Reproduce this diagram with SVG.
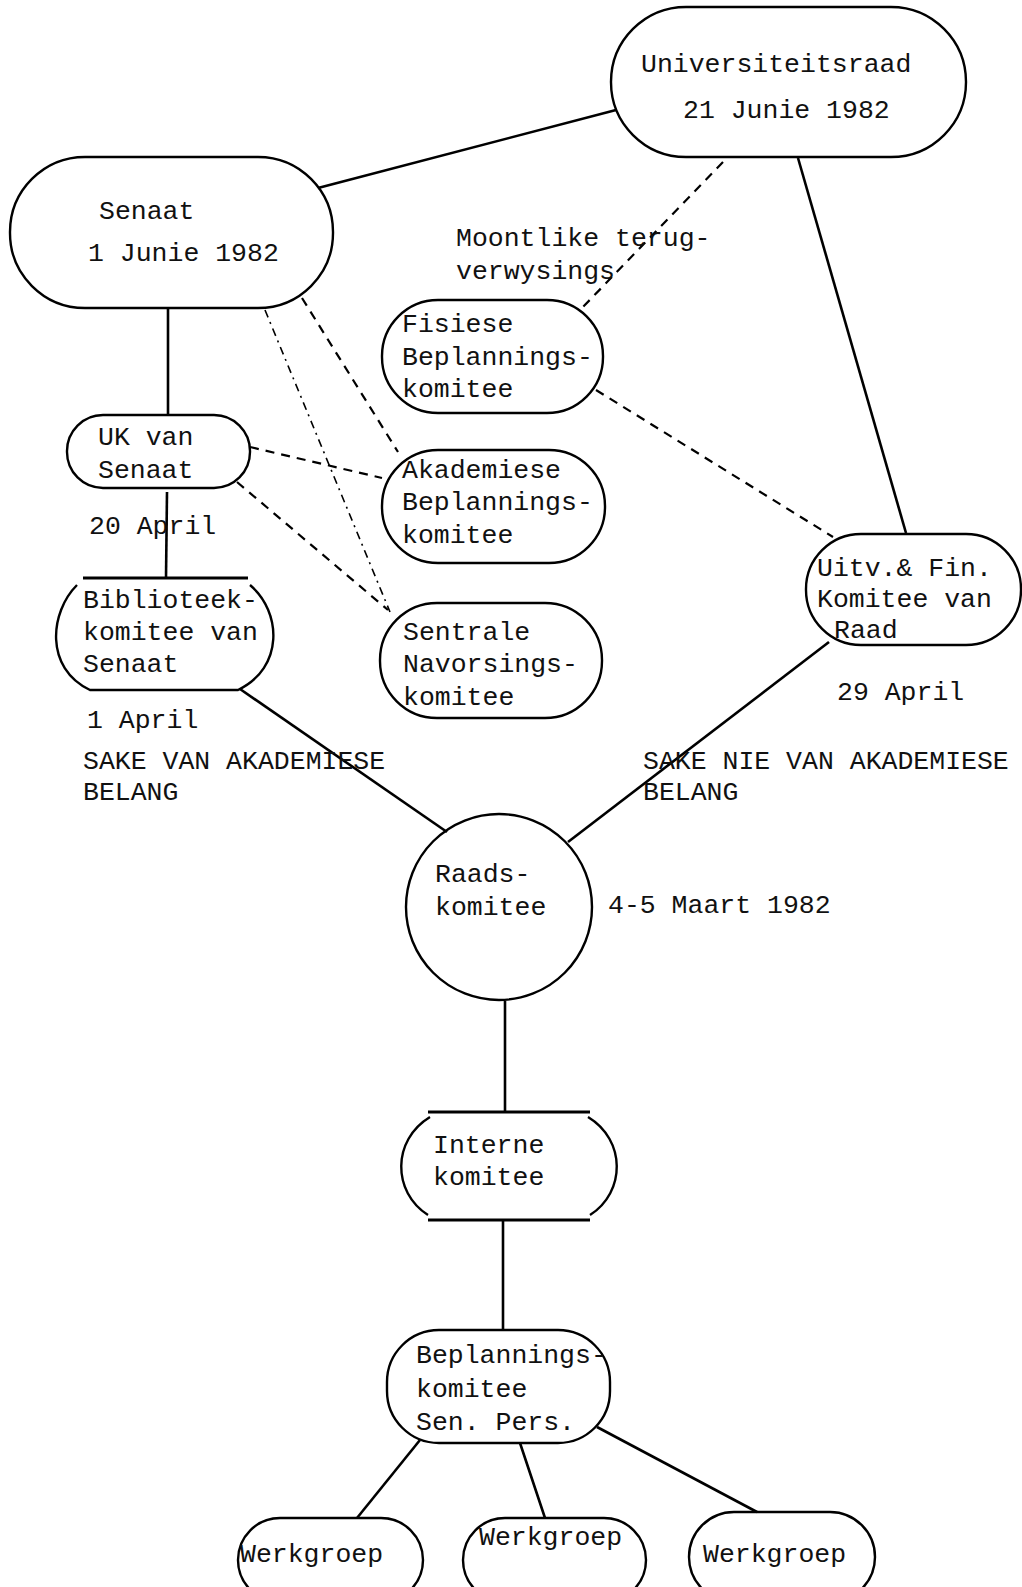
<svg xmlns="http://www.w3.org/2000/svg" width="1022" height="1587" viewBox="0 0 1022 1587">
  <style>
    .box { fill: none; stroke: #000; stroke-width: 2.4; }
    .bar { stroke: #000; stroke-width: 3; fill: none; }
    .link { stroke: #000; stroke-width: 2.6; fill: none; }
    .dash { stroke: #000; stroke-width: 2.2; fill: none; stroke-dasharray: 9 7; }
    .dashdot { stroke: #000; stroke-width: 1.6; fill: none; stroke-dasharray: 8 5 2 5; }
    text { font-family: "Liberation Mono", "Courier New", monospace; font-size: 26.5px; fill: #111; }
  </style>
  <rect width="1022" height="1587" fill="#fff"/>

  <!-- connectors -->
  <g id="connectors">
    <line class="link" x1="318" y1="188" x2="616" y2="110"/>
    <line class="link" x1="798" y1="158" x2="906" y2="533"/>
    <line class="link" x1="168" y1="308" x2="168" y2="415"/>
    <line class="link" x1="167" y1="492" x2="166" y2="578"/>
    <line class="link" x1="240" y1="689" x2="447" y2="832"/>
    <line class="link" x1="829" y1="642" x2="568" y2="842"/>
    <line class="link" x1="505" y1="1001" x2="505" y2="1112"/>
    <line class="link" x1="503" y1="1220" x2="503" y2="1330"/>
    <line class="link" x1="420" y1="1440" x2="357" y2="1518"/>
    <line class="link" x1="520" y1="1443" x2="545" y2="1518"/>
    <line class="link" x1="597" y1="1427" x2="757" y2="1512"/>
    <line class="dash" x1="723" y1="162" x2="583" y2="307"/>
    <line class="dash" x1="596" y1="390" x2="833" y2="537"/>
    <line class="dash" x1="302" y1="298" x2="398" y2="452"/>
    <line class="dashdot" x1="265" y1="310" x2="390" y2="612"/>
    <line class="dash" x1="250" y1="447" x2="382" y2="478"/>
    <line class="dash" x1="237" y1="482" x2="388" y2="610"/>
  </g>

  <!-- top level -->
  <g id="universiteitsraad">
    <rect class="box" x="611" y="7" width="355" height="150" rx="75"/>
    <text x="641" y="72">Universiteitsraad</text>
    <text x="683" y="118">21 Junie 1982</text>
  </g>
  <g id="senaat">
    <rect class="box" x="10" y="157" width="323" height="151" rx="75"/>
    <text x="99" y="219">Senaat</text>
    <text x="88" y="261">1 Junie 1982</text>
  </g>

  <g id="note-terugverwysings">
    <text x="456" y="246">Moontlike terug-</text>
    <text x="456" y="279">verwysings</text>
  </g>

  <!-- planning committees -->
  <g id="fisiese">
    <rect class="box" x="382" y="300" width="221" height="113" rx="56"/>
    <text x="402" y="332">Fisiese</text>
    <text x="402" y="365">Beplannings-</text>
    <text x="402" y="397">komitee</text>
  </g>
  <g id="akademiese">
    <rect class="box" x="382" y="450" width="223" height="113" rx="56"/>
    <text x="402" y="478">Akademiese</text>
    <text x="402" y="510">Beplannings-</text>
    <text x="402" y="543">komitee</text>
  </g>
  <g id="sentrale">
    <rect class="box" x="380" y="603" width="222" height="115" rx="57"/>
    <text x="403" y="640">Sentrale</text>
    <text x="403" y="672">Navorsings-</text>
    <text x="403" y="705">komitee</text>
  </g>

  <!-- senate side -->
  <g id="uk-senaat">
    <rect class="box" x="67" y="415" width="183" height="73" rx="36"/>
    <text x="98" y="445">UK van</text>
    <text x="98" y="478">Senaat</text>
  </g>
  <text x="89" y="534">20 April</text>

  <g id="biblioteek">
    <line class="bar" x1="83" y1="578" x2="248" y2="578"/>
    <path class="box" d="M77 585 C50 612 44 668 90 690 L238 690 C284 668 282 612 250 585"/>
    <text x="83" y="608">Biblioteek-</text>
    <text x="83" y="640">komitee van</text>
    <text x="83" y="672">Senaat</text>
  </g>
  <text x="87" y="728">1 April</text>
  <text x="83" y="769">SAKE VAN AKADEMIESE</text>
  <text x="83" y="800">BELANG</text>

  <!-- council side -->
  <g id="uitv-fin">
    <rect class="box" x="806" y="534" width="215" height="111" rx="55"/>
    <text x="817" y="576">Uitv.&amp; Fin.</text>
    <text x="817" y="607">Komitee van</text>
    <text x="834" y="638">Raad</text>
  </g>
  <text x="837" y="700">29 April</text>
  <text x="643" y="769">SAKE NIE VAN AKADEMIESE</text>
  <text x="643" y="800">BELANG</text>

  <!-- central committee -->
  <g id="raadskomitee">
    <circle class="box" cx="499" cy="907" r="93"/>
    <text x="435" y="882">Raads-</text>
    <text x="435" y="915">komitee</text>
  </g>
  <text x="608" y="913">4-5 Maart 1982</text>

  <g id="interne">
    <line class="bar" x1="428" y1="1112" x2="590" y2="1112"/>
    <line class="bar" x1="428" y1="1220" x2="590" y2="1220"/>
    <path class="box" d="M430 1117 C392 1140 392 1192 428 1215"/>
    <path class="box" d="M588 1117 C626 1140 626 1192 590 1215"/>
    <text x="433" y="1153">Interne</text>
    <text x="433" y="1185">komitee</text>
  </g>

  <g id="beplanning-senior">
    <rect class="box" x="387" y="1330" width="223" height="113" rx="52"/>
    <text x="416" y="1363">Beplannings-</text>
    <text x="416" y="1397">komitee</text>
    <text x="416" y="1430">Sen. Pers.</text>
  </g>

  <!-- working groups -->
  <g id="werkgroep-1">
    <rect class="box" x="238" y="1518" width="185" height="84" rx="42"/>
    <text x="240" y="1562">Werkgroep</text>
  </g>
  <g id="werkgroep-2">
    <rect class="box" x="463" y="1518" width="183" height="84" rx="42"/>
    <text x="479" y="1545">Werkgroep</text>
  </g>
  <g id="werkgroep-3">
    <rect class="box" x="689" y="1512" width="186" height="90" rx="45"/>
    <text x="703" y="1562">Werkgroep</text>
  </g>
</svg>
